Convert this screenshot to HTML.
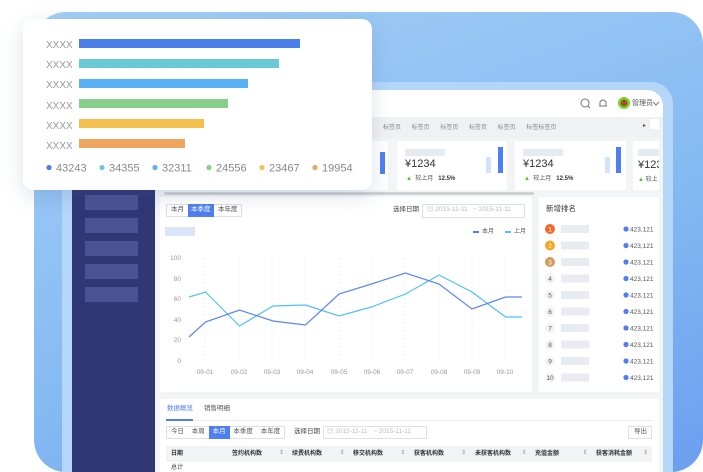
<!DOCTYPE html>
<html style="width:703px;height:472px;overflow:hidden"><head><meta charset="utf-8"><style>
*{margin:0;padding:0;box-sizing:border-box}
body{width:703px;height:472px;overflow:hidden;background:#fff;position:relative;font-family:"Liberation Sans","Noto Sans CJK SC",sans-serif}
.a{position:absolute}
.t{position:absolute;white-space:nowrap;line-height:1}
</style></head><body>
<div class="a" style="left:34px;top:12px;width:669px;height:460px;border-radius:32px;background:linear-gradient(160deg,#a4cff6 0%,#86bbf2 55%,#6b9ff0 100%)"></div>
<div class="a" style="left:62px;top:82px;width:611px;height:390px;border-radius:22px 22px 0 0;background:#b4d6f8"></div>
<div class="a" style="left:72px;top:90px;width:591px;height:382px;border-radius:16px 16px 0 0;background:#f3f4f6;overflow:hidden">
 <div class="a" style="left:0;top:0;width:591px;height:27px;background:#fff"></div>
 <div class="a" style="left:0;top:27px;width:591px;height:21px;background:#f0f1f3"></div>
</div>
<svg class="a" style="left:580px;top:97px" width="90" height="14">
 <circle cx="5" cy="6" r="4" fill="none" stroke="#777" stroke-width="1"/><line x1="8" y1="9" x2="10" y2="11" stroke="#777"/>
 <path d="M20 9 L20 5 Q23 1 26 5 L26 9 Z" fill="none" stroke="#777"/><line x1="19" y1="9" x2="27" y2="9" stroke="#777"/>
 <circle cx="44" cy="6" r="6" fill="#7ed321"/><circle cx="44" cy="6" r="3.5" fill="#a0522d"/>
 <path d="M73 5 l3 3 l3 -3" fill="none" stroke="#777"/>
</svg>
<div class="t" style="left:632px;top:100px;font-size:7px;color:#555">管理员</div>
<div class="t" style="left:383px;top:125px;font-size:6px;color:#888;word-spacing:9px">标签页 标签页 标签页 标签页 标签页 标签标签页</div>
<div class="t" style="left:643px;top:123px;font-size:6px;color:#555">▸</div>
<div class="a" style="left:650px;top:119px;width:9px;height:10px;background:#fff"></div>
<div class="a" style="left:360px;top:141px;width:28px;height:49px;background:#fff"></div>
<div class="a" style="left:380px;top:152px;width:5px;height:22px;background:#4d7ff3"></div>
<div class="a" style="left:397px;top:141px;width:110px;height:49px;background:#fff"></div>
<div class="a" style="left:515px;top:141px;width:111px;height:49px;background:#fff"></div>
<div class="a" style="left:633px;top:141px;width:26px;height:49px;background:#fff;overflow:hidden">
 <div class="a" style="left:5px;top:8px;width:30px;height:7px;background:#e6eaf3"></div>
 <div class="t" style="left:5px;top:19px;font-size:11px;color:#333">¥123</div>
 <div class="t" style="left:5px;top:36px;font-size:6px;color:#555"><span style="color:#52c41a">▲</span> 较上</div>
</div>
<div class="a" style="left:405px;top:149px;width:40px;height:7px;background:#e6eaf3"></div>
<div class="t" style="left:405px;top:159px;font-size:11px;color:#333">¥1234</div>
<div class="a" style="left:486px;top:157px;width:5px;height:16px;background:#d4e2fb"></div>
<div class="a" style="left:498px;top:147px;width:5px;height:26px;background:#4d7ff3"></div>
<div class="t" style="left:406px;top:176px;font-size:6px;color:#555"><span style="color:#52c41a">▲</span>&nbsp; 较上月 &nbsp;&nbsp;<b style="color:#333">12.5%</b></div>
<div class="a" style="left:523px;top:149px;width:40px;height:7px;background:#e6eaf3"></div>
<div class="t" style="left:523px;top:159px;font-size:11px;color:#333">¥1234</div>
<div class="a" style="left:605px;top:157px;width:5px;height:16px;background:#d4e2fb"></div>
<div class="a" style="left:616px;top:147px;width:5px;height:26px;background:#4d7ff3"></div>
<div class="t" style="left:524px;top:176px;font-size:6px;color:#555"><span style="color:#52c41a">▲</span>&nbsp; 较上月 &nbsp;&nbsp;<b style="color:#333">12.5%</b></div>
<div class="a" style="left:164px;top:192px;width:370px;height:3px;background:#cfd0d2;border-radius:2px"></div>
<div class="a" style="left:72px;top:150px;width:83px;height:322px;background:#2f3775"></div>
<div class="a" style="left:85px;top:195px;width:53px;height:15px;background:#4a5294"></div>
<div class="a" style="left:85px;top:218px;width:53px;height:15px;background:#4a5294"></div>
<div class="a" style="left:85px;top:241px;width:53px;height:15px;background:#4a5294"></div>
<div class="a" style="left:85px;top:264px;width:53px;height:15px;background:#4a5294"></div>
<div class="a" style="left:85px;top:287px;width:53px;height:15px;background:#4a5294"></div>
<div class="a" style="left:160px;top:197px;width:372px;height:195px;background:#fff"></div>
<div class="a" style="left:166px;top:204px;width:76px;height:13px;border:1px solid #dde0e6;background:#fff"></div>
<div class="a" style="left:188px;top:204px;width:26px;height:13px;background:#4d7ff3"></div>
<div class="t" style="left:171px;top:207px;font-size:6.5px;color:#555">本月</div>
<div class="t" style="left:191px;top:207px;font-size:6.5px;color:#fff">本季度</div>
<div class="t" style="left:218px;top:207px;font-size:6.5px;color:#555">本年度</div>
<div class="t" style="left:393px;top:207px;font-size:6.5px;color:#444">选择日期</div>
<div class="a" style="left:422px;top:204px;width:103px;height:14px;border:1px solid #dde0e6"></div>
<div class="t" style="left:427px;top:207px;font-size:6.5px;color:#bbb">▤ 2015-11-11 &nbsp;&nbsp;~ 2015-11-11</div>
<div class="a" style="left:165px;top:227px;width:30px;height:9px;background:#dbe6fb"></div>
<div class="a" style="left:473px;top:231px;width:6px;height:2px;background:#4d7ff3"></div>
<div class="t" style="left:482px;top:229px;font-size:6px;color:#555">本月</div>
<div class="a" style="left:505px;top:231px;width:6px;height:2px;background:#52c0f5"></div>
<div class="t" style="left:514px;top:229px;font-size:6px;color:#555">上月</div>
<svg class="a" style="left:160px;top:240px" width="372" height="145">
 <g stroke="#eef0f3" stroke-dasharray="2,2">
  <line x1="45" y1="18" x2="45" y2="121"/><line x1="79" y1="18" x2="79" y2="121"/><line x1="112" y1="18" x2="112" y2="121"/><line x1="145" y1="18" x2="145" y2="121"/><line x1="179" y1="18" x2="179" y2="121"/><line x1="212" y1="18" x2="212" y2="121"/><line x1="245" y1="18" x2="245" y2="121"/><line x1="279" y1="18" x2="279" y2="121"/><line x1="312" y1="18" x2="312" y2="121"/><line x1="345" y1="18" x2="345" y2="121"/>
 </g>
 <g font-size="6.5" fill="#999" text-anchor="end" font-family="Liberation Sans">
  <text x="21" y="20">100</text><text x="21" y="41">80</text><text x="21" y="61">60</text><text x="21" y="82">40</text><text x="21" y="102">20</text><text x="21" y="123">0</text>
 </g>
 <g font-size="6.5" fill="#999" text-anchor="middle" font-family="Liberation Sans">
  <text x="45" y="134">09-01</text><text x="79" y="134">09-02</text><text x="112" y="134">09-03</text><text x="145" y="134">09-04</text><text x="179" y="134">09-05</text><text x="212" y="134">09-06</text><text x="245" y="134">09-07</text><text x="279" y="134">09-08</text><text x="312" y="134">09-09</text><text x="345" y="134">09-10</text>
 </g>
 <polyline fill="none" stroke="#52c0f5" stroke-width="1.2" points="29,57 45.5,52 79.5,86 113,66 145.5,65 179,76 211.5,67 245.5,54 279,35 312,52 345.5,77 362,77"/>
 <polyline fill="none" stroke="#5b86ee" stroke-width="1.2" points="29,97 45.5,82 79.5,70 113,81 145.5,85 179,54 211.5,44 245.5,33 279,44 312,69 345.5,57 362,57"/>
</svg>
<div class="a" style="left:539px;top:197px;width:120px;height:195px;background:#fff"></div>
<div class="t" style="left:546px;top:205px;font-size:7.5px;color:#333">新增排名</div>
<div class="a" style="left:160px;top:399px;width:499px;height:73px;background:#fff"></div>
<div class="t" style="left:167px;top:406px;font-size:6.5px;color:#4d7ff3">数据概览</div>
<div class="t" style="left:204px;top:406px;font-size:6.5px;color:#555">销售明细</div>
<div class="a" style="left:166px;top:420px;width:487px;height:1px;background:#eee"></div>
<div class="a" style="left:166px;top:419px;width:27px;height:2px;background:#4d7ff3"></div>
<div class="a" style="left:166px;top:426px;width:119px;height:13px;border:1px solid #dde0e6"></div>
<div class="a" style="left:209px;top:426px;width:21px;height:13px;background:#4d7ff3"></div>
<div class="t" style="left:171px;top:429px;font-size:6.5px;color:#555;word-spacing:6px">今日 本周 <span style="color:#fff">本月</span> 本季度 本年度</div>
<div class="t" style="left:294px;top:429px;font-size:6.5px;color:#444">选择日期</div>
<div class="a" style="left:323px;top:426px;width:104px;height:13px;border:1px solid #dde0e6"></div>
<div class="t" style="left:327px;top:429px;font-size:6.5px;color:#bbb">▤ 2015-11-11 &nbsp;&nbsp;~ 2015-11-11</div>
<div class="a" style="left:628px;top:426px;width:24px;height:13px;border:1px solid #dde0e6"></div>
<div class="t" style="left:634px;top:429px;font-size:6.5px;color:#555">导出</div>
<div class="a" style="left:166px;top:446px;width:486px;height:16px;background:#f2f3f5"></div>
<div class="t" style="left:171px;top:451px;font-size:6px;color:#333;font-weight:bold">日期</div>
<div class="t" style="left:232px;top:451px;font-size:6px;color:#333;font-weight:bold">签约机构数</div>
<div class="t" style="left:292px;top:451px;font-size:6px;color:#333;font-weight:bold">续费机构数</div>
<div class="t" style="left:353px;top:451px;font-size:6px;color:#333;font-weight:bold">移交机构数</div>
<div class="t" style="left:414px;top:451px;font-size:6px;color:#333;font-weight:bold">获客机构数</div>
<div class="t" style="left:475px;top:451px;font-size:6px;color:#333;font-weight:bold">未获客机构数</div>
<div class="t" style="left:535px;top:451px;font-size:6px;color:#333;font-weight:bold">充值金额</div>
<div class="t" style="left:596px;top:451px;font-size:6px;color:#333;font-weight:bold">获客消耗金额</div>
<div class="t" style="left:279px;top:450px;font-size:6px;color:#999;word-spacing:54px">⇕ ⇕ ⇕ ⇕ ⇕ ⇕ ⇕</div>
<div class="t" style="left:171px;top:465px;font-size:6px;color:#333">总计</div>
<div class="a" style="left:23px;top:19px;width:349px;height:171px;background:#fff;border-radius:10px;box-shadow:0 6px 20px rgba(60,90,140,.18)"></div>
<div class="t" style="left:46px;top:36px;font-size:10px;color:#999;line-height:20.2px;white-space:pre">XXXX
XXXX
XXXX
XXXX
XXXX
XXXX</div>
<div class="a" style="left:79px;top:39px;width:221px;height:9px;background:#4a7fe8"></div>
<div class="a" style="left:79px;top:59px;width:200px;height:9px;background:#6ac9d6"></div>
<div class="a" style="left:79px;top:79px;width:169px;height:9px;background:#5ab0f5"></div>
<div class="a" style="left:79px;top:99px;width:149px;height:9px;background:#86cf8a"></div>
<div class="a" style="left:79px;top:119px;width:125px;height:9px;background:#f4c14f"></div>
<div class="a" style="left:79px;top:139px;width:106px;height:9px;background:#eea55f"></div>
<svg class="a" style="left:40px;top:160px" width="330" height="16" font-family="Liberation Sans" font-size="11" fill="#888">
 <circle cx="9" cy="7.5" r="2.6" fill="#4a7fe8"/><text x="16" y="11.5">43243</text>
 <circle cx="62" cy="7.5" r="2.6" fill="#6ac9d6"/><text x="69" y="11.5">34355</text>
 <circle cx="115" cy="7.5" r="2.6" fill="#5ab0f5"/><text x="122" y="11.5">32311</text>
 <circle cx="169" cy="7.5" r="2.6" fill="#86cf8a"/><text x="176" y="11.5">24556</text>
 <circle cx="222" cy="7.5" r="2.6" fill="#f4c14f"/><text x="229" y="11.5">23467</text>
 <circle cx="275" cy="7.5" r="2.6" fill="#eea55f"/><text x="282" y="11.5">19954</text>
</svg>
<svg class="a" style="left:539px;top:220px" width="120" height="170" font-family="Liberation Sans" font-size="6.5">
 <circle cx="11" cy="9" r="5" fill="#f26a2b"/><text x="11" y="11.3" text-anchor="middle" fill="#fff">1</text>
 <circle cx="11" cy="25.5" r="5" fill="#f5a623"/><text x="11" y="27.8" text-anchor="middle" fill="#fff">2</text>
 <circle cx="11" cy="42" r="5" fill="#d49a5a"/><text x="11" y="44.3" text-anchor="middle" fill="#fff">3</text>
 <g fill="#f2f3f5"><circle cx="11" cy="58.5" r="5"/><circle cx="11" cy="75" r="5"/><circle cx="11" cy="91.5" r="5"/><circle cx="11" cy="108" r="5"/><circle cx="11" cy="124.5" r="5"/><circle cx="11" cy="141" r="5"/><circle cx="11" cy="157.5" r="5"/></g>
 <g fill="#555" text-anchor="middle"><text x="11" y="60.8">4</text><text x="11" y="77.3">5</text><text x="11" y="93.8">6</text><text x="11" y="110.3">7</text><text x="11" y="126.8">8</text><text x="11" y="143.3">9</text><text x="11" y="159.8">10</text></g>
 <g fill="#e8ebf2"><rect x="22" y="5" width="28" height="8"/><rect x="22" y="21.5" width="28" height="8"/><rect x="22" y="38" width="28" height="8"/><rect x="22" y="54.5" width="28" height="8"/><rect x="22" y="71" width="28" height="8"/><rect x="22" y="87.5" width="28" height="8"/><rect x="22" y="104" width="28" height="8"/><rect x="22" y="120.5" width="28" height="8"/><rect x="22" y="137" width="28" height="8"/><rect x="22" y="153.5" width="28" height="8"/></g>
 <g fill="#4d7ff3"><circle cx="87" cy="9" r="2.6"/><circle cx="87" cy="25.5" r="2.6"/><circle cx="87" cy="42" r="2.6"/><circle cx="87" cy="58.5" r="2.6"/><circle cx="87" cy="75" r="2.6"/><circle cx="87" cy="91.5" r="2.6"/><circle cx="87" cy="108" r="2.6"/><circle cx="87" cy="124.5" r="2.6"/><circle cx="87" cy="141" r="2.6"/><circle cx="87" cy="157.5" r="2.6"/></g>
 <g fill="#555"><text x="91" y="11.3">423,121</text><text x="91" y="27.8">423,121</text><text x="91" y="44.3">423,121</text><text x="91" y="60.8">423,121</text><text x="91" y="77.3">423,121</text><text x="91" y="93.8">423,121</text><text x="91" y="110.3">423,121</text><text x="91" y="126.8">423,121</text><text x="91" y="143.3">423,121</text><text x="91" y="159.8">423,121</text></g>
</svg>
</body></html>
